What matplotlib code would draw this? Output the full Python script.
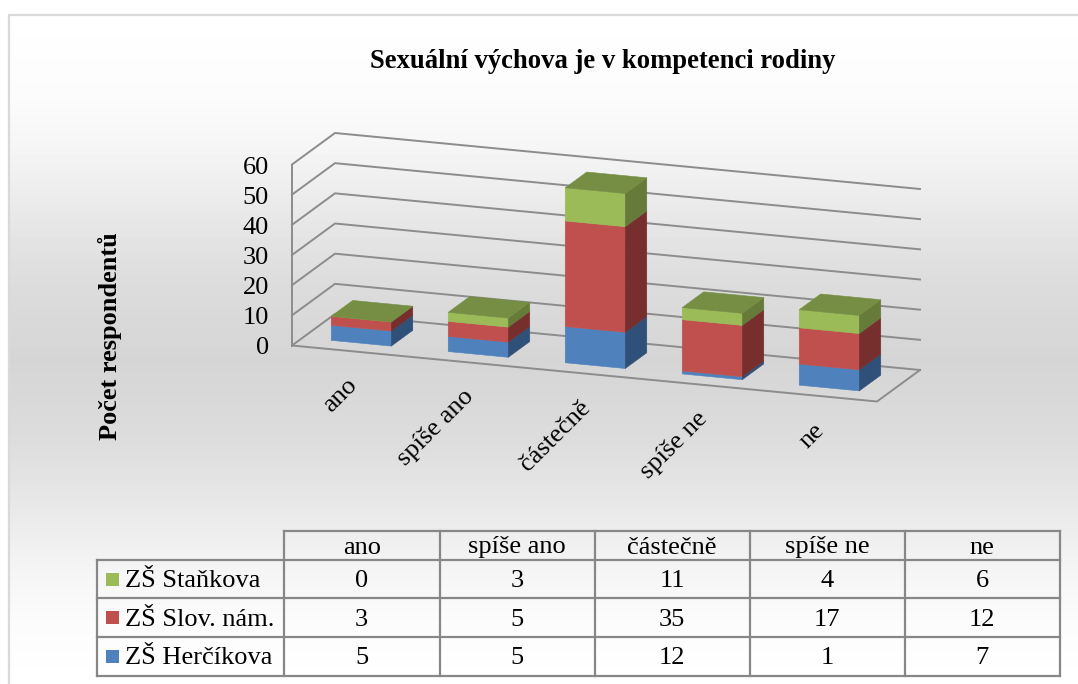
import numpy as np
import matplotlib
matplotlib.use("Agg")
import matplotlib.pyplot as plt
from matplotlib.patches import Polygon, Rectangle

plt.rcParams["font.family"] = ["Liberation Serif", "DejaVu Serif"]

TITLE = "Sexuální výchova je v kompetenci rodiny"
Y_LABEL = "Počet respondentů"
categories = ["ano", "spíše ano", "částečně", "spíše ne", "ne"]
series_names = ["ZŠ Herčíkova", "ZŠ Slov. nám.", "ZŠ Staňkova"]
hercikova = [5, 5, 12, 1, 7]
slov_nam = [3, 5, 35, 17, 12]
stankova = [0, 3, 11, 4, 6]
y_ticks = [0, 10, 20, 30, 40, 50, 60]

# front, side, top shades per series
BLUE = ("#4F81BD", "#2F5078", "#3A6190")
RED = ("#C0504D", "#772F2E", "#8E3B39")
GREEN = ("#9BBB59", "#667A3A", "#758E43")
GRID = "#8C8C8C"

# floor corner and the three box vectors in pixels
ORIGIN = np.array([292.0, 345.5])
WIDTH_VEC = np.array([585.0, 56.0])
DEPTH_VEC = np.array([43.0, -31.5])
PX_PER_UNIT = 181.0 / 60
BAR_WIDTH = 0.513
BAR_DEPTH = 0.5


def project(cat, value, depth):
    """cat in category units, value in respondents, depth 0 (front) to 1 (back)."""
    return ORIGIN + WIDTH_VEC * (cat / len(categories)) + DEPTH_VEC * depth + np.array([0, -PX_PER_UNIT * value])


def draw_segment(ax, i, low, high, colors, z):
    x0 = i + (1 - BAR_WIDTH) / 2
    x1 = x0 + BAR_WIDTH
    d0 = (1 - BAR_DEPTH) / 2
    d1 = d0 + BAR_DEPTH
    front = [project(x0, low, d0), project(x1, low, d0), project(x1, high, d0), project(x0, high, d0)]
    side = [project(x1, low, d0), project(x1, low, d1), project(x1, high, d1), project(x1, high, d0)]
    top = [project(x0, high, d0), project(x1, high, d0), project(x1, high, d1), project(x0, high, d1)]
    ax.add_patch(Polygon(front, closed=True, fc=colors[0], ec=colors[0], lw=0.4, zorder=z))
    ax.add_patch(Polygon(side, closed=True, fc=colors[1], ec=colors[1], lw=0.4, zorder=z))
    return Polygon(top, closed=True, fc=colors[2], ec=colors[2], lw=0.4, zorder=z + 0.5)


fig = plt.figure(figsize=(10.78, 6.84), dpi=100)
ax = fig.add_axes([0, 0, 1, 1])
ax.axis("off")

# background gradient of the chart area
grad_y = [15, 100, 150, 215, 280, 360, 440, 505, 570, 620, 684]
grad_val = [1.0, 0.985, 0.96, 0.91, 0.865, 0.835, 0.865, 0.91, 0.96, 0.985, 1.0]
rows = np.interp(np.arange(15, 684), grad_y, grad_val).reshape(-1, 1)
ax.imshow(rows, cmap="gray", vmin=0, vmax=1, extent=(9, 1078, 684, 15), aspect="auto", zorder=0)
ax.set_xlim(0, 1078)
ax.set_ylim(684, 0)
ax.plot([9, 9, 1078], [684, 15, 15], color="#D9D9D9", lw=1.6, zorder=1)

# walls and floor
n = len(categories)
for v in y_ticks:
    pts = np.array([project(0, v, 0), project(0, v, 1), project(n, v, 1)])
    ax.plot(pts[:, 0], pts[:, 1], color=GRID, lw=1.4, zorder=2)
    ax.text(269, project(0, v, 0)[1] + 3, str(v), ha="right", va="center", fontsize=19, color="black", zorder=5)
floor = np.array([project(0, 0, 0), project(n, 0, 0), project(n, 0, 1)])
ax.plot(floor[:, 0], floor[:, 1], color=GRID, lw=1.4, zorder=2)
left = np.array([project(0, 0, 0), project(0, y_ticks[-1], 0)])
ax.plot(left[:, 0], left[:, 1], color=GRID, lw=1.4, zorder=2)

# stacked bars
for i in range(n):
    low = 0
    z = 3
    tops = None
    for vals, colors in zip([hercikova, slov_nam, stankova], [BLUE, RED, GREEN]):
        high = low + vals[i]
        tops = draw_segment(ax, i, low, high, colors, z)
        low = high
        z += 0.1
    ax.add_patch(tops)

# category labels
for i, cat in enumerate(categories):
    anchor = project(i + 0.5, 0, 0)
    ax.text(anchor[0] - 5, anchor[1] + 23, cat, rotation=45, rotation_mode="anchor", ha="right", va="top",
            fontsize=19, color="black", zorder=5)

ax.text(603, 61, TITLE, ha="center", va="center", fontsize=19.2, fontweight="bold", color="black")
ax.text(110, 336, Y_LABEL, rotation=90, ha="center", va="center", fontsize=19, fontweight="bold", color="black")

# data table
col_x = [284, 439.5, 594.5, 749.5, 904.5, 1060]
row_y = [531, 560, 598, 637, 676]
label_x = 97
LINE = "#878787"
for x in col_x:
    ax.plot([x, x], [row_y[0], row_y[-1]], color=LINE, lw=1.6, zorder=4)
ax.plot([label_x, label_x], [row_y[1], row_y[-1]], color=LINE, lw=1.6, zorder=4)
ax.plot([col_x[0], col_x[-1]], [row_y[0], row_y[0]], color=LINE, lw=1.6, zorder=4)
for y in row_y[1:]:
    ax.plot([label_x, col_x[-1]], [y, y], color=LINE, lw=1.6, zorder=4)
for j, cat in enumerate(categories):
    ax.text((col_x[j] + col_x[j + 1]) / 2, (row_y[0] + row_y[1]) / 2 + 2, cat, ha="center", va="center", fontsize=19)
table_rows = [(series_names[2], stankova, GREEN[0]), (series_names[1], slov_nam, RED[0]), (series_names[0], hercikova, BLUE[0])]
for r, (name, vals, color) in enumerate(table_rows):
    yc = (row_y[r + 1] + row_y[r + 2]) / 2
    ax.add_patch(Rectangle((106, yc - 6.5), 13, 13, fc=color, ec="none", zorder=5))
    ax.text(125, yc + 2, name, ha="left", va="center", fontsize=19)
    for j, v in enumerate(vals):
        ax.text((col_x[j] + col_x[j + 1]) / 2, yc + 2, str(v), ha="center", va="center", fontsize=19)

fig.savefig("out.png", dpi=100)
